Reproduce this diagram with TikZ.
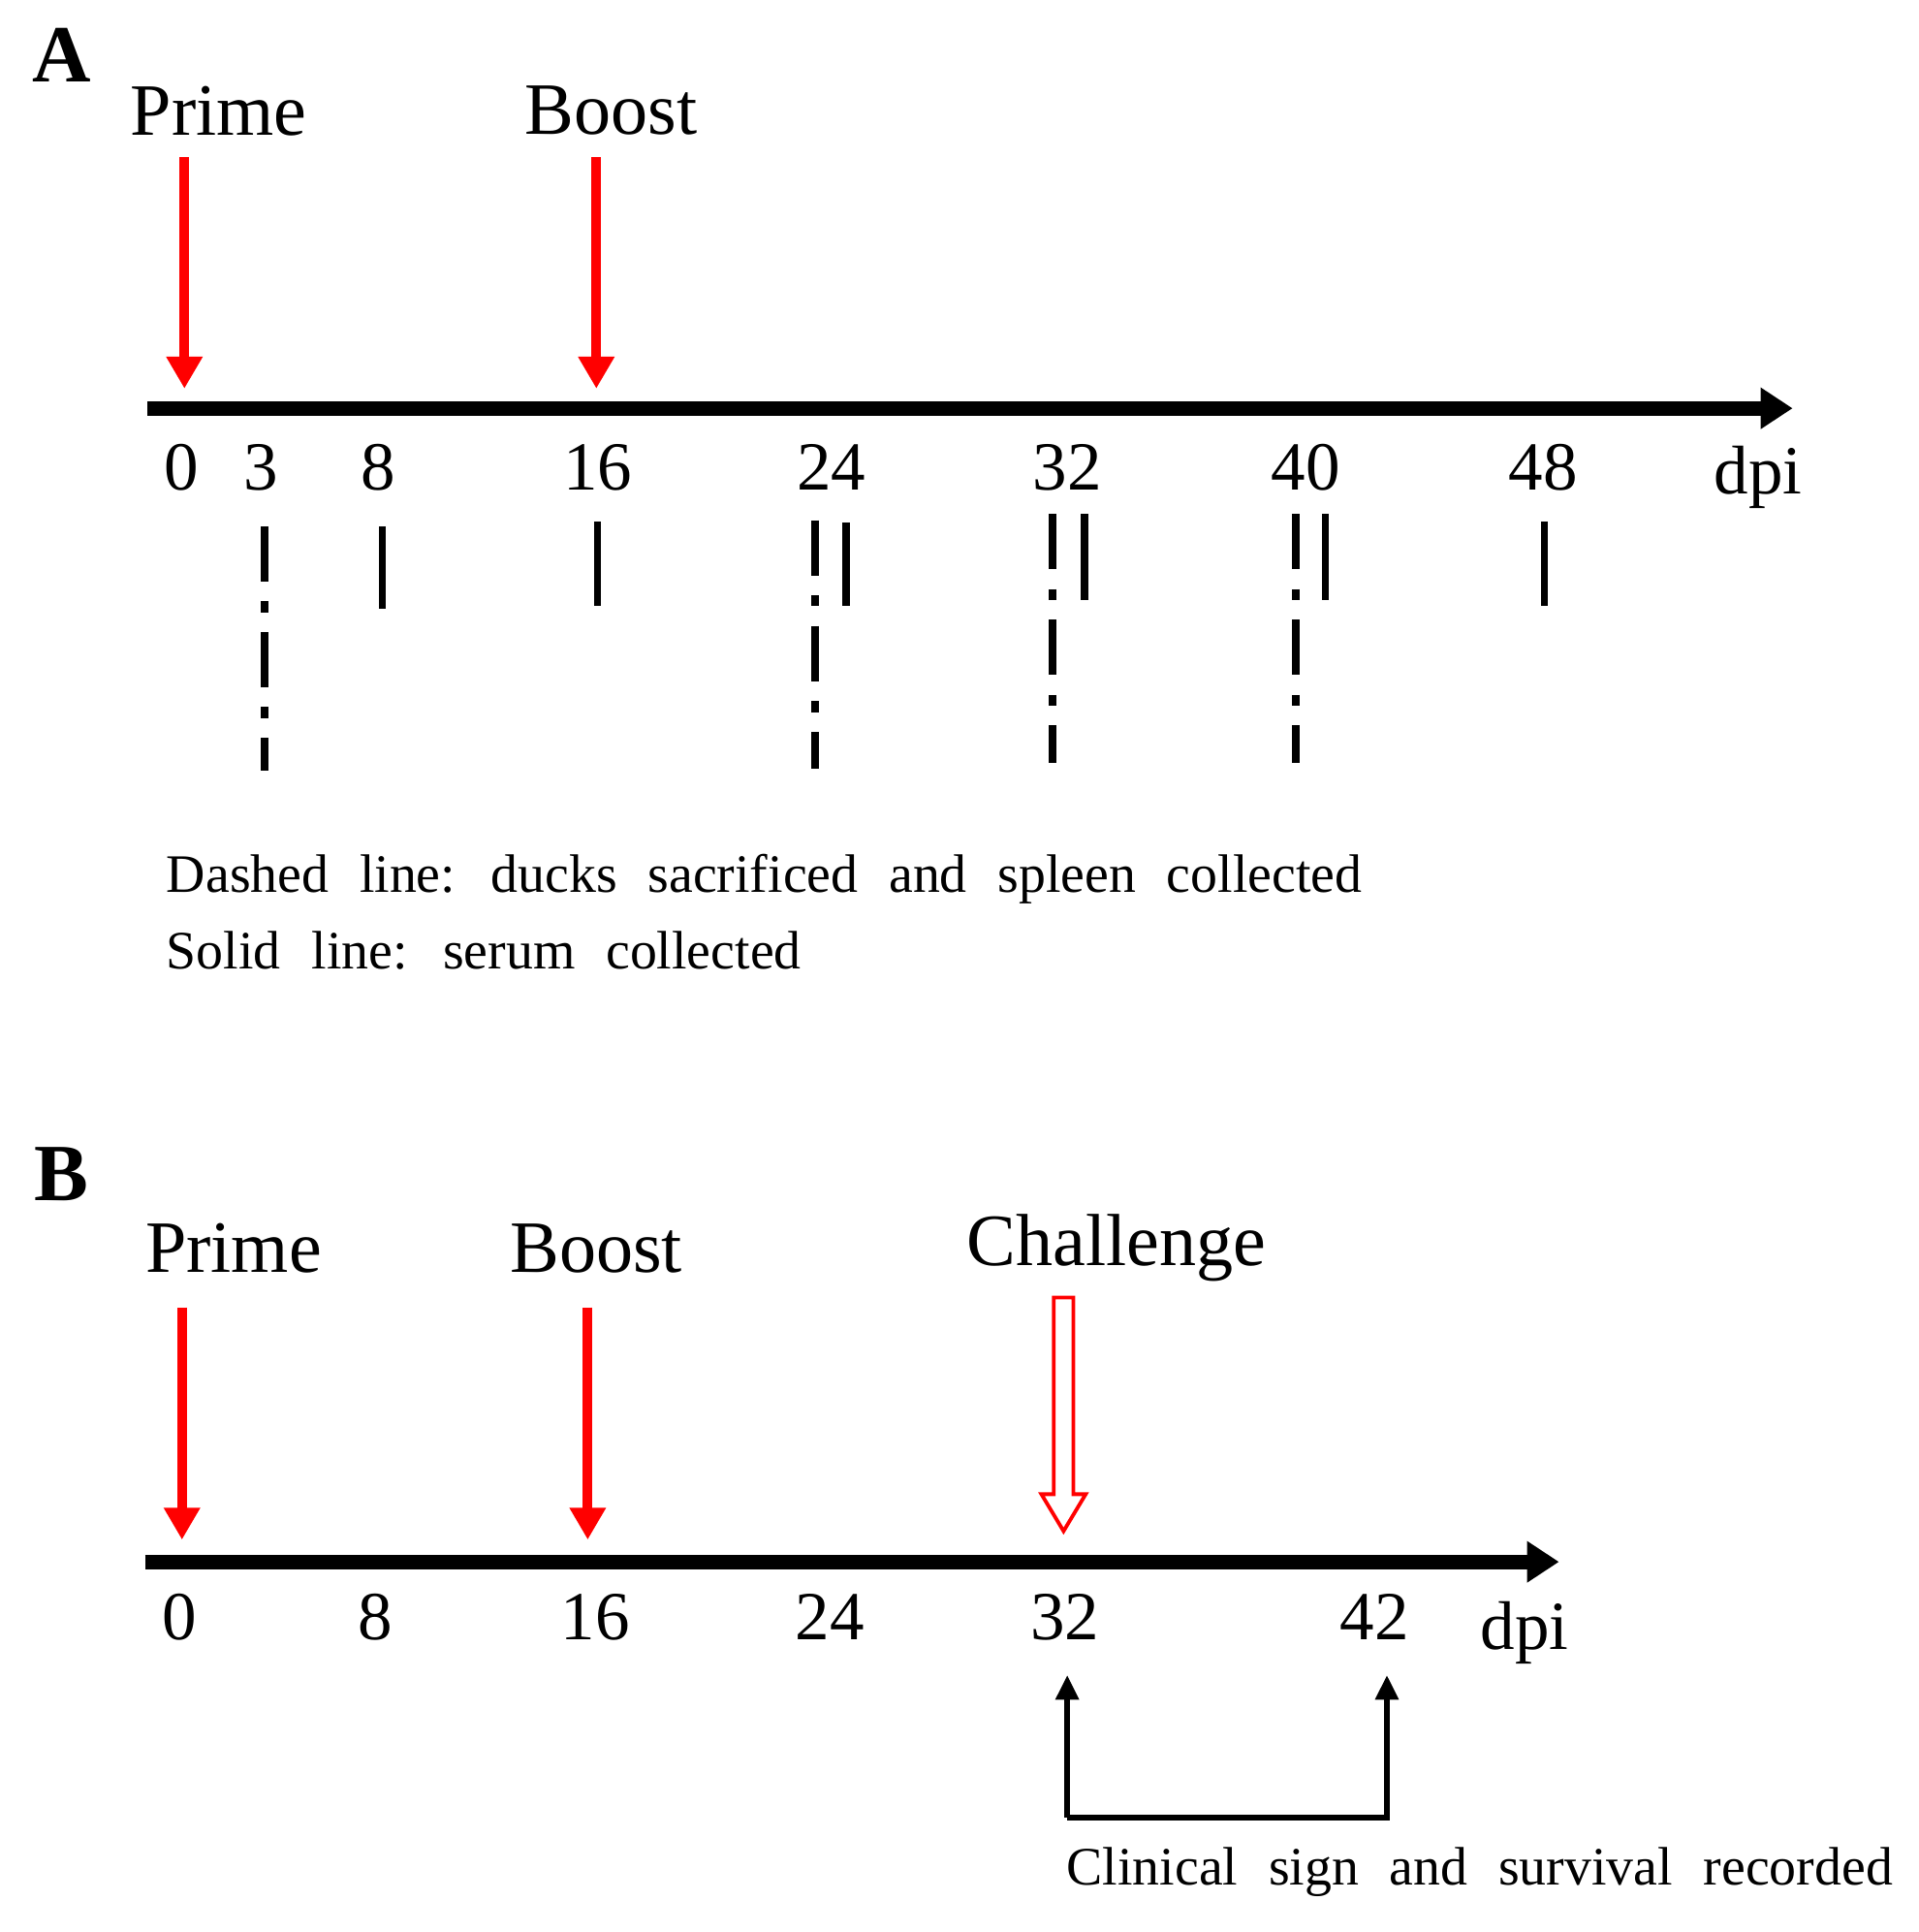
\documentclass[tikz,border=0pt]{standalone}
\usepackage{fontspec}
\setmainfont{Liberation Serif}
\usetikzlibrary{arrows.meta}
\newcommand\mywsp{\spaceskip=25pt plus 2pt\relax}
\tikzset{
 big/.style={font=\fontsize{60}{60}\selectfont},
 num/.style={font=\fontsize{56}{56}\selectfont},
 note/.style={font=\fontsize{44}{44}\selectfont, anchor=west},
 panel/.style={font=\bfseries\fontsize{66}{66}\selectfont},
 redarr/.style={draw=red, line width=8pt, -{Triangle[width=28pt,length=26pt]}},
 axisarr/.style={line width=12pt, -{Triangle[width=32pt,length=26pt]}},
 solidtick/.style={line width=6pt},
 dashtick/.style={line width=6pt, dash pattern=on 45pt off 16pt on 9pt off 16pt},
 brk/.style={line width=5pt, -{Triangle[width=18pt,length=20pt]}}
}
\begin{document}
\begin{tikzpicture}[x=1pt,y=-1pt]
\useasboundingbox (0,0) rectangle (1560,1571);
% Panel A
\node[panel] (A) at (50,45) {A};
\node[big] (pa) at (178,90) {Prime};
\node[big] (ba) at (497,90) {Boost};
\coordinate (p1) at (150,128); \coordinate (p2) at (150,316);
\coordinate (b1) at (485,128); \coordinate (b2) at (485,316);
\draw[redarr] (p1) -- (p2);
\draw[redarr] (b1) -- (b2);
\coordinate (ax1) at (120,332); \coordinate (ax2) at (1458,332);
\draw[axisarr] (ax1) -- (ax2);
\foreach \x/\t in {148/0,212/3,308/8,486/16,676/24,868/32,1062/40,1255/48}
  \node[num] (n\t) at (\x,380) {\t};
\node[num] (dpiA) at (1430,388) {dpi};
\foreach \x/\a/\b in {311/428/495,486/424/493,688/425/493,882/418/488,1078/418/488,1256/424/493}
  \draw[solidtick] (\x,\a) coordinate (s\x) -- (\x,\b) coordinate (e\x);
\foreach \x/\a/\b in {215/428/627,663/423/625,856/418/620,1054/418/620}
  \draw[dashtick] (\x,\a) coordinate (ds\x) -- (\x,\b) coordinate (de\x);
\node[note] (t1) at (132,715) {\mywsp Dashed line: ducks sacrificed and spleen collected};
\node[note] (t2) at (132,773) {\mywsp Solid line: serum collected};
% Panel B
\node[panel] (B) at (50,955) {B};
\node[big] (pb) at (190,1015) {Prime};
\node[big] (bb) at (485,1015) {Boost};
\node[big] (cb) at (908,1015) {Challenge};
\coordinate (q1) at (148,1063); \coordinate (q2) at (148,1252);
\coordinate (r1) at (478,1063); \coordinate (r2) at (478,1252);
\draw[redarr] (q1) -- (q2);
\draw[redarr] (r1) -- (r2);
\draw[red, line width=3pt, fill=white, line join=miter]
  (857,1055) -- (873,1055) -- (873,1215) -- (883,1215) -- (865,1245) -- (847,1215) -- (857,1215) -- cycle;
\coordinate (bx1) at (118,1270); \coordinate (bx2) at (1268,1270);
\draw[axisarr] (bx1) -- (bx2);
\foreach \x/\t in {146/0,305/8,484/16,675/24,866/32,1118/42}
  \node[num] (m\t) at (\x,1315) {\t};
\node[num] (dpiB) at (1240,1328) {dpi};
\coordinate (c0) at (868,1478); \coordinate (c1) at (868,1362);
\coordinate (c2) at (1128,1478); \coordinate (c3) at (1128,1362);
\draw[brk] (c0) -- (c1);
\draw[brk] (c0) -- (c2) -- (c3);
\node[note] (t3) at (864,1522) {\mywsp Clinical sign and survival recorded};
\end{tikzpicture}
\end{document}
